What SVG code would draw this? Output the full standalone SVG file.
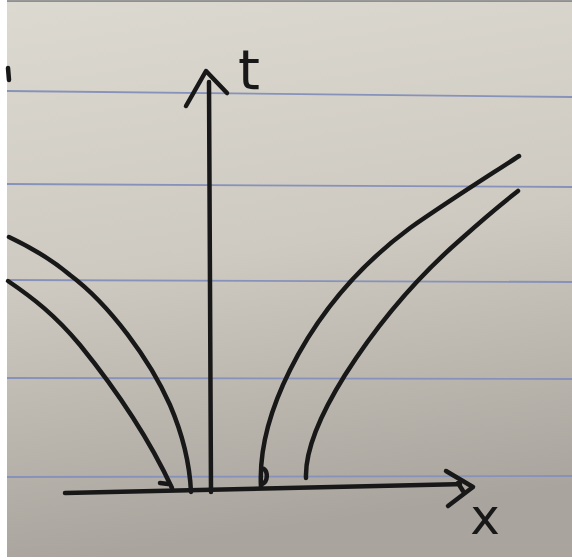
<svg xmlns="http://www.w3.org/2000/svg" width="572" height="560" viewBox="0 0 572 560">
<defs>
<linearGradient id="paper" x1="0" y1="0" x2="0.15" y2="1">
<stop offset="0" stop-color="#dcd9d0"/>
<stop offset="0.5" stop-color="#cecac1"/>
<stop offset="1" stop-color="#a9a49d"/>
</linearGradient>
</defs>
<style>
.rule{stroke:#8792ba;stroke-width:1.8;fill:none}
.ink{stroke:#181818;stroke-width:4.5;fill:none;stroke-linecap:round;stroke-linejoin:round}
.lbl{font-family:"DejaVu Sans",sans-serif;fill:#181818}
</style>
<rect width="572" height="560" fill="#ffffff"/>
<rect x="7" y="1" width="565" height="556" fill="url(#paper)"/>
<line x1="7" y1="1" x2="572" y2="1" stroke="#777" stroke-width="1.5"/>
<g id="ruled-lines">
<line class="rule" x1="7" y1="91" x2="572" y2="97"/>
<line class="rule" x1="7" y1="184" x2="572" y2="187"/>
<line class="rule" x1="7" y1="280" x2="572" y2="282"/>
<line class="rule" x1="7" y1="378" x2="572" y2="379"/>
<line class="rule" x1="7" y1="477" x2="572" y2="476"/>
</g>
<path class="ink" d="M8,68 L9,80" stroke-width="3"/>
<g id="connectors">
<path id="t-axis" class="ink" d="M211,492 C210,400 209,250 209,82"/>
<path id="t-arrowhead" class="ink" d="M186,106 L206,71 L227,93"/>
<path id="x-axis" class="ink" d="M65,493 C200,490 330,488 460,484"/>
<path id="x-arrowhead" class="ink" d="M446,471 L473,487 L448,506 M458,483 L463,491"/>
</g>
<g id="curves">
<path id="left-curve-outer" class="ink" d="M8,281 C33,298 55,315 80,345 C110,382 145,430 172,488"/>
<path id="left-tick" class="ink" d="M160,483 L168,484" stroke-width="3"/>
<path id="left-curve-inner" class="ink" d="M9,237 C30,247 50,258 70,275 C110,305 150,360 170,405 C185,440 190,470 191,492"/>
<path id="right-curve-inner" class="ink" d="M261,487 C259,450 270,410 290,370 C320,310 360,265 410,228 C450,200 490,175 519,156"/>
<path id="right-hook" class="ink" d="M262,484 C268,482 268,472 264,469" stroke-width="3.5"/>
<path id="right-curve-outer" class="ink" d="M306,478 C305,450 320,415 345,375 C380,320 420,275 460,240 C480,222 500,205 518,191"/>
</g>
<g id="label-t"><text class="lbl" x="249" y="89" font-size="56" text-anchor="middle">t</text></g>
<g id="label-x"><text class="lbl" x="485" y="534" font-size="50" text-anchor="middle">x</text></g>
</svg>
